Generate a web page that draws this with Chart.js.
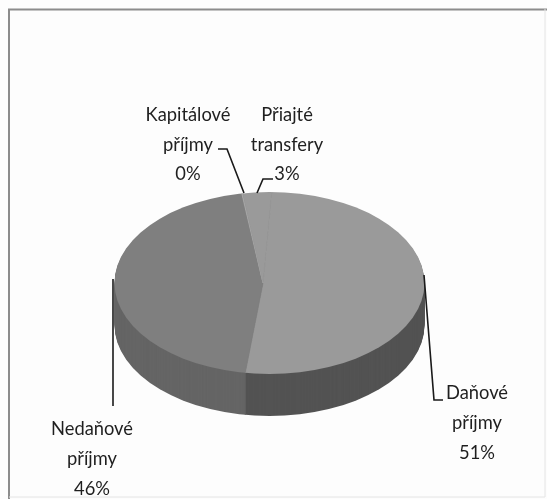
<!DOCTYPE html>
<html><head><meta charset="utf-8">
<style>html,body{margin:0;padding:0;background:#fff}#w{position:relative;width:547px;height:499px}canvas{display:block}</style>
<script src="https://cdn.jsdelivr.net/npm/chart.js@4"></script>
</head><body><div id="w"><canvas id="c" width="547" height="499"></canvas></div>
<script>
const categories = ['Daňové příjmy', 'Nedaňové příjmy', 'Kapitálové příjmy', 'Přiajté transfery'];
const shares = [51, 46, 0.1, 3];
const percentLabels = ['51%', '46%', '0%', '3%'];
const topColors = ['#9a9a9a', '#7f7f7f', '#b0b0b0', '#9a9a9a'];
const sideColors = ['#535353', '#656565', '#5f5f5f', '#555555'];

const FACE = {cx:269.5, cy:283, rx:155, ry:91}, DEPTH = 42;
const labelLayout = [
  {x:477, y:[393,423,453], lines:['Daňové','příjmy'], leader:[[424,275],[434,400],[443,400]]},
  {x:92,  y:[429,459,489], lines:['Nedaňové','příjmy'], leader:[[113,279],[113,406]]},
  {x:188, y:[115,145,174], lines:['Kapitálové','příjmy'], leader:[[218,149],[227,149],[244,193]]},
  {x:287, y:[115,145,174], lines:['Přiajté','transfery'], leader:[[273,179],[263,179],[257,193]]}
];

const pie3d = {
  id:'pie3d',
  beforeDraw(chart){
    const {ctx,width,height}=chart;
    ctx.save();
    ctx.fillStyle='#fdfdfd';ctx.fillRect(0,0,width,height);
    ctx.strokeStyle='#8c8c8c';ctx.lineWidth=2;
    ctx.beginPath();ctx.moveTo(9,499);ctx.lineTo(9,9.5);ctx.lineTo(547,9.5);ctx.stroke();
    ctx.strokeStyle='#e4e4e4';ctx.lineWidth=1;
    ctx.beginPath();ctx.moveTo(545,9);ctx.lineTo(545,497);ctx.lineTo(9,497);ctx.stroke();
    ctx.restore();
  },
  beforeDatasetsDraw(chart){
    const {ctx}=chart, arcs=chart.getDatasetMeta(0).data, a0=arcs[0];
    const k=FACE.ry/FACE.rx;
    const map=()=>{ctx.translate(a0.x,FACE.cy);ctx.scale(1,k);ctx.translate(-a0.x,-a0.y);};
    const clip=d=>{ctx.beginPath();ctx.ellipse(FACE.cx,FACE.cy+d,FACE.rx,FACE.ry,0,0,Math.PI*2);ctx.clip();};
    // side wall: the arc elements' own wedges, stacked downwards
    for(let d=DEPTH;d>0;d--){
      ctx.save();clip(d);ctx.translate(0,d);map();
      arcs.forEach((a,i)=>{
        ctx.beginPath();ctx.moveTo(a.x,a.y);
        ctx.arc(a.x,a.y,a.outerRadius,a.startAngle,a.endAngle);
        ctx.closePath();ctx.fillStyle=sideColors[i];ctx.strokeStyle=sideColors[i];ctx.lineWidth=1;ctx.fill();ctx.stroke();
      });
      ctx.restore();
    }
    ctx.save();clip(0);map();
  },
  afterDatasetsDraw(chart){
    const {ctx}=chart;
    ctx.restore();
    ctx.save();
    ctx.strokeStyle='#1a1a1a';ctx.lineWidth=1.6;
    labelLayout.forEach(l=>{
      ctx.beginPath();
      l.leader.forEach((p,i)=>i?ctx.lineTo(p[0],p[1]):ctx.moveTo(p[0],p[1]));
      ctx.stroke();
    });
    ctx.fillStyle='#1f1f1f';ctx.font='19.5px Lato, "Open Sans", sans-serif';
    ctx.textAlign='center';ctx.textBaseline='middle';
    const put=(t,x,y)=>{ctx.save();ctx.translate(x,y);ctx.scale(0.94,1);ctx.fillText(t,0,0);ctx.restore();};
    labelLayout.forEach((l,i)=>{
      l.lines.forEach((t,j)=>put(t,l.x,l.y[j]));
      put(percentLabels[i],l.x,l.y[2]);
    });
    ctx.restore();
  }
};

new Chart(document.getElementById('c'),{
  type:'pie',
  data:{labels:categories,datasets:[{data:shares,backgroundColor:topColors,borderColor:topColors,borderWidth:0.8,clip:false}]},
  options:{
    responsive:false,animation:false,rotation:3.2,
    layout:{padding:{left:98,right:119,top:0,bottom:169}},
    plugins:{legend:{display:false},title:{display:false},tooltip:{enabled:false}}
  },
  plugins:[pie3d]
});
</script></body></html>
